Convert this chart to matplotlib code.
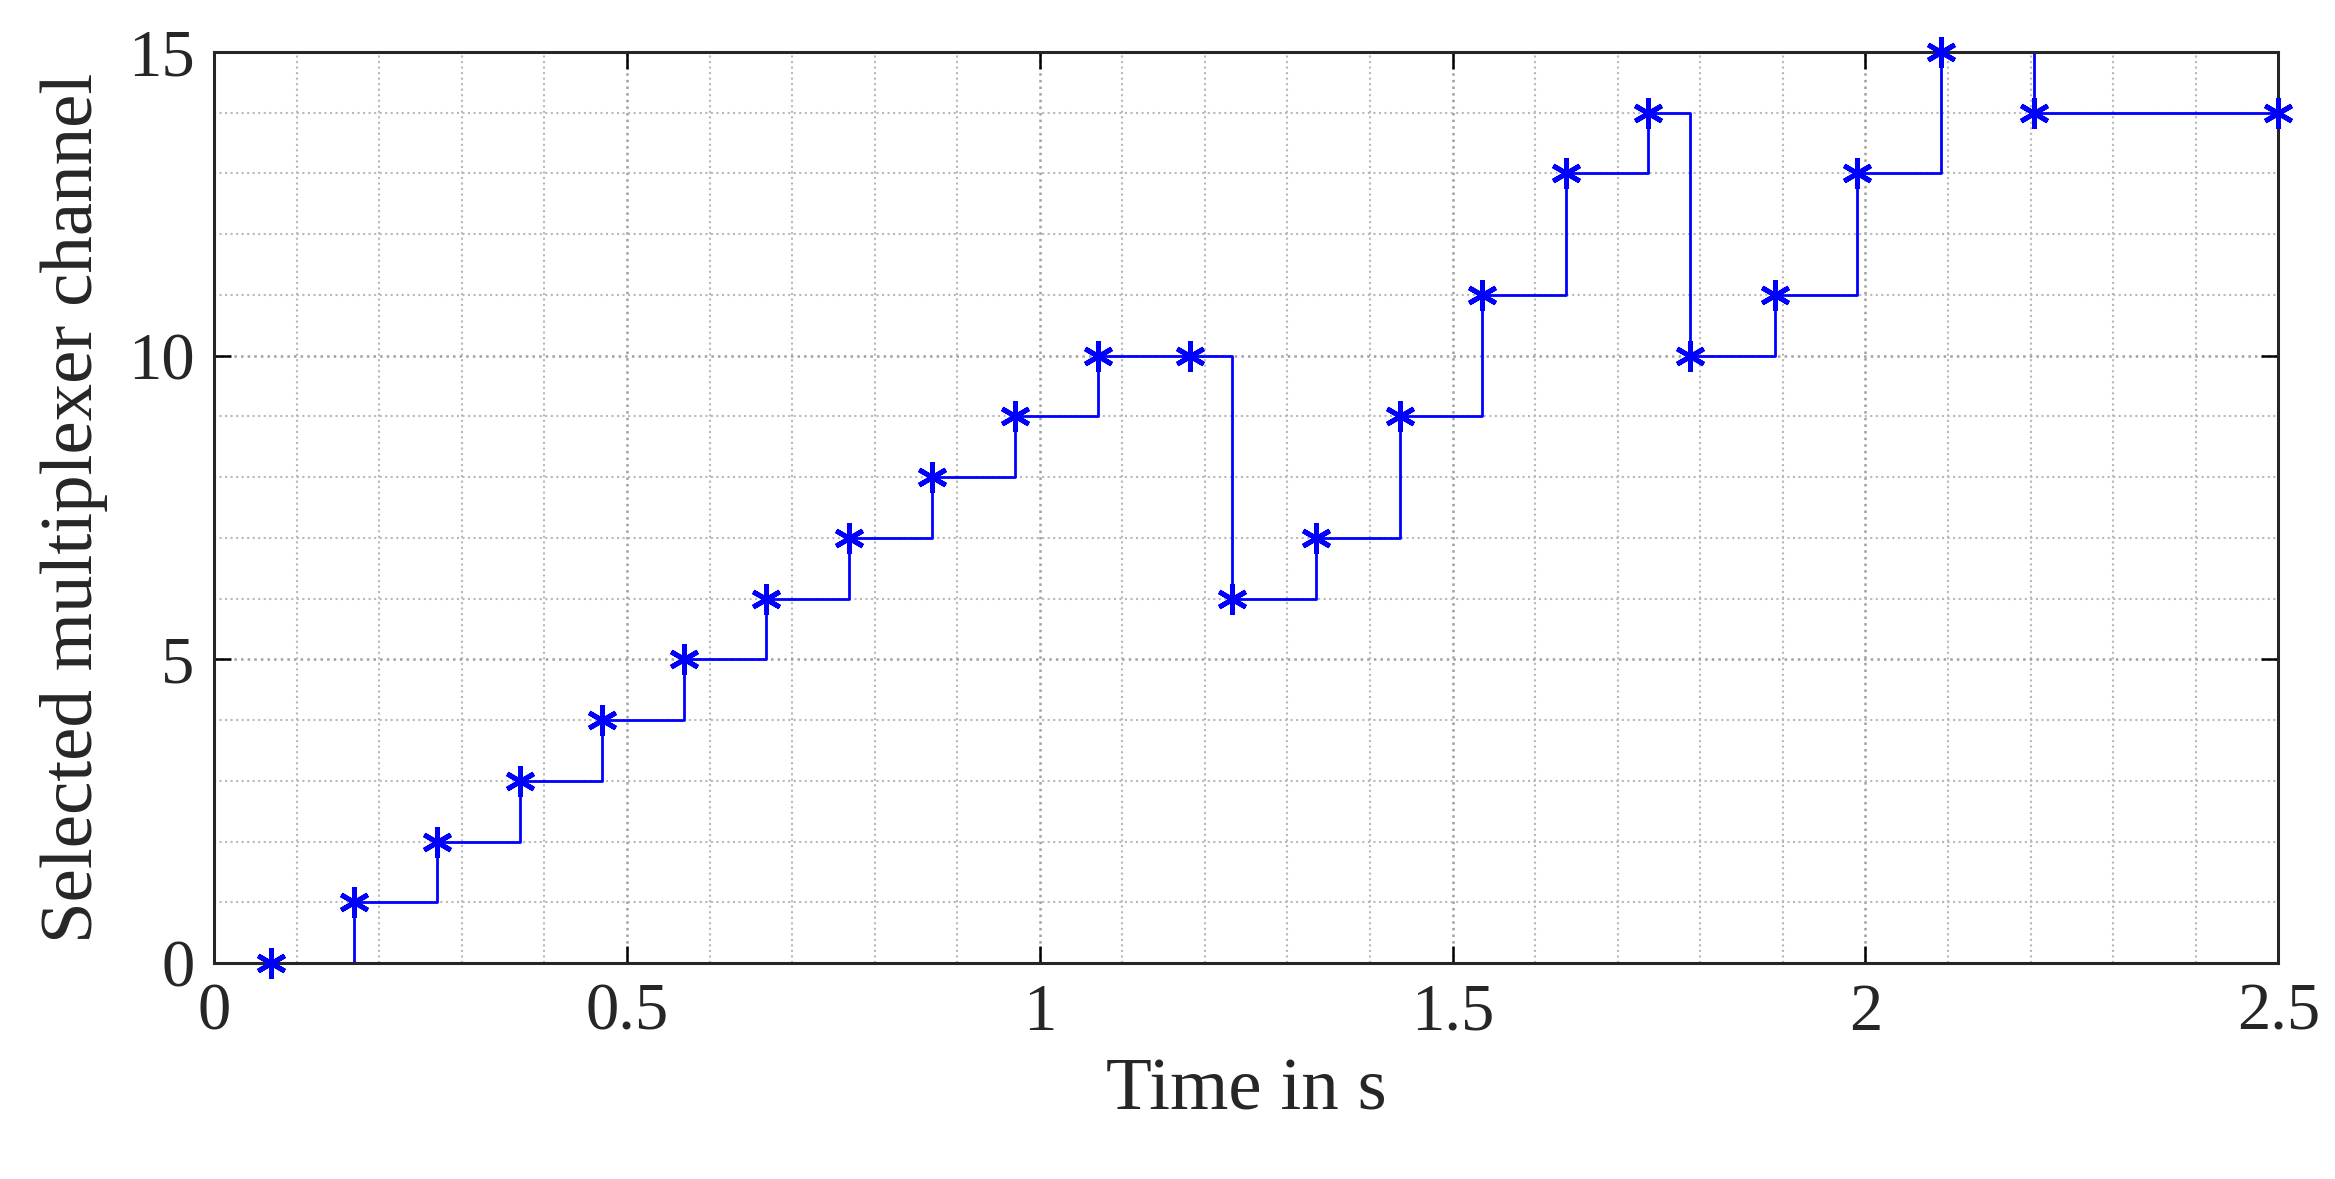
import numpy as np
import matplotlib.pyplot as plt
from matplotlib.ticker import MultipleLocator

plt.rcParams['font.family'] = ['Liberation Serif', 'DejaVu Serif']

# switching times (s) and selected channel
time_s = [0.069, 0.169, 0.270, 0.370, 0.470, 0.569, 0.669, 0.769, 0.870, 0.970,
          1.070, 1.182, 1.233, 1.334, 1.436, 1.535, 1.637, 1.737, 1.788, 1.891,
          1.990, 2.092, 2.204, 2.500]
channel = [0, 1, 2, 3, 4, 5, 6, 7, 8, 9,
           10, 10, 6, 7, 9, 11, 13, 14, 10, 11,
           13, 15, 14, 14]

fig = plt.figure(figsize=(23.35, 11.79), dpi=100)
ax = fig.add_axes([0.0917, 0.183, 0.884, 0.773])

ax.step(time_s, channel, where='post', color='#0000ff', linewidth=2, clip_on=False)
ax.plot(time_s, channel, linestyle='none', marker=(6, 2, 0), markersize=22,
        markeredgewidth=3.5, color='#0000ff', clip_on=False, zorder=5)

ax.set_xlim(0, 2.5)
ax.set_ylim(0, 15)
ax.xaxis.set_major_locator(MultipleLocator(0.5))
ax.xaxis.set_minor_locator(MultipleLocator(0.1))
ax.yaxis.set_major_locator(MultipleLocator(5))
ax.yaxis.set_minor_locator(MultipleLocator(1))
ax.set_xticks([0, 0.5, 1, 1.5, 2, 2.5])
ax.set_xticklabels(['0', '0.5', '1', '1.5', '2', '2.5'])

ax.grid(which='major', linestyle=':', color='#a0a0a0', linewidth=1.8)
ax.grid(which='minor', linestyle=':', color='#b8b8b8', linewidth=1.5)
ax.tick_params(which='both', direction='in', top=True, right=True, labelsize=48,
               pad=14, labelcolor='#262626')
ax.tick_params(which='major', length=12, width=1.8)
ax.tick_params(which='minor', length=0)
for sp in ax.spines.values():
    sp.set_linewidth(2.2)
    sp.set_color('#262626')

ax.set_xlabel('Time in s', fontsize=54, color='#262626', labelpad=10)
ax.set_ylabel('Selected multiplexer channel', fontsize=54, color='#262626', labelpad=14)

fig.savefig('out.png', dpi=100)
